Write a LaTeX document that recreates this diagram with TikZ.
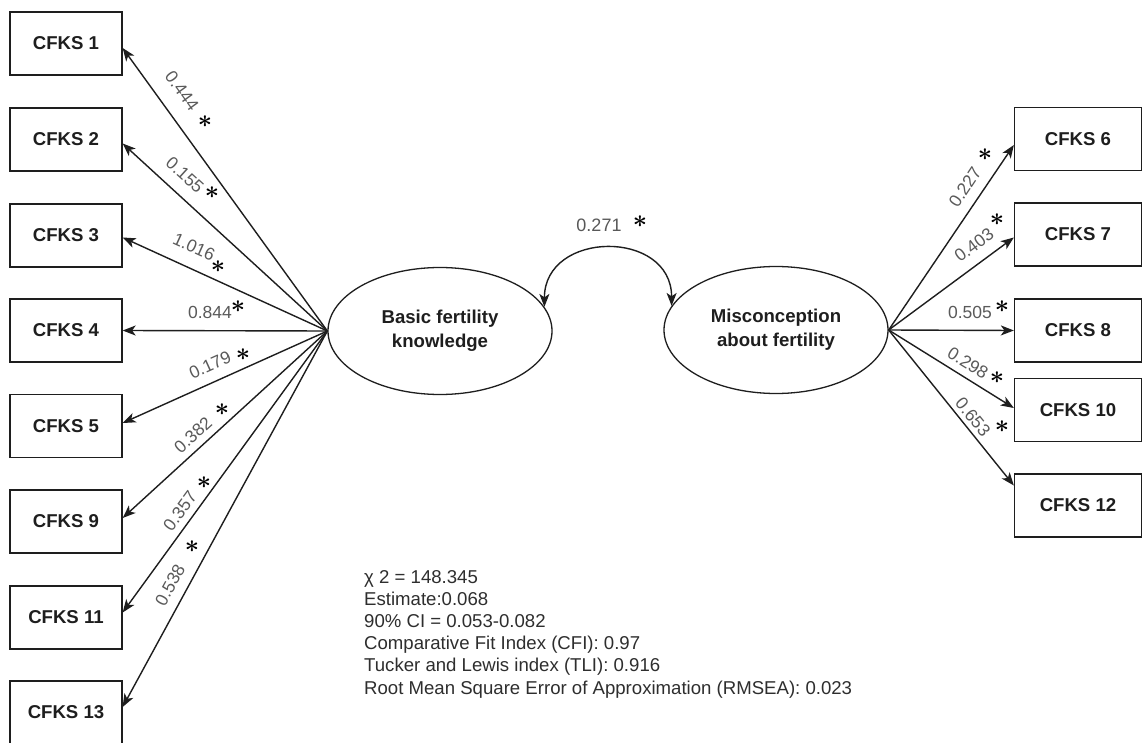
\documentclass[tikz,border=0pt]{standalone}
\usepackage{fontspec}
\setmainfont{Liberation Sans}
\usetikzlibrary{shapes.geometric,arrows.meta}
\definecolor{txt}{HTML}{1E1E1E}
\definecolor{coefgray}{HTML}{5A5A5A}
\definecolor{stattxt}{HTML}{2E2E2E}
\begin{document}
\begin{tikzpicture}[x=1pt,y=-1pt,
  obs/.style={draw=txt, line width=1.3pt, minimum width=112pt, minimum height=63pt, inner sep=0pt,
    font=\fontsize{18.6}{22}\selectfont\bfseries, text=txt},
  obsR/.style={obs, minimum width=127pt},
  lat/.style={ellipse, draw=txt, line width=1.3pt, minimum width=224pt, minimum height=127pt, inner sep=0pt,
    align=center, font=\fontsize{18.6}{24}\selectfont\bfseries, text=txt},
  loading/.style={draw=txt, line width=1.4pt, -{Stealth[length=13pt,width=10pt,inset=3.5pt]}},
  corr/.style={draw=txt, line width=1.4pt, {Stealth[length=13pt,width=10pt,inset=3.5pt]}-{Stealth[length=13pt,width=10pt,inset=3.5pt]}},
  coef/.style={text=coefgray, font=\fontsize{17.5}{20}\selectfont, inner sep=0pt},
  sig/.style={text=black, font=\fontsize{25}{25}\selectfont\boldmath, inner sep=0pt},
  stats/.style={text=stattxt, font=\fontsize{18.6}{22.2}\selectfont, align=left, inner sep=0pt, anchor=north west}
]
\useasboundingbox[fill=white] (0,0) rectangle (1143,743);

% latent variables
\node[lat] (L) at (440,331) {Basic fertility\\knowledge};
\node[lat] (R) at (776,330) {Misconception\\about fertility};

% left indicators
\node[obs] (b1)  at (66,43.5)  {CFKS 1};
\node[obs] (b2)  at (66,139.5) {CFKS 2};
\node[obs] (b3)  at (66,235.5) {CFKS 3};
\node[obs] (b4)  at (66,330.5) {CFKS 4};
\node[obs] (b5)  at (66,426)   {CFKS 5};
\node[obs] (b9)  at (66,521.5) {CFKS 9};
\node[obs] (b11) at (66,617.5) {CFKS 11};
\node[obs] (b13) at (66,712.5) {CFKS 13};

% right indicators
\node[obsR] (b6)  at (1078,139)   {CFKS 6};
\node[obsR] (b7)  at (1078,234.5) {CFKS 7};
\node[obsR] (b8)  at (1078,330.5) {CFKS 8};
\node[obsR] (b10) at (1078,410)   {CFKS 10};
\node[obsR] (b12) at (1078,505.5) {CFKS 12};

% loadings, left
\draw[loading] (L.west) -- ([yshift=-4.5pt]b1.east);
\draw[loading] (L.west) -- ([yshift=-4pt]b2.east);
\draw[loading] (L.west) -- ([yshift=-2pt]b3.east);
\draw[loading] (L.west) -- (b4.east);
\draw[loading] (L.west) -- ([yshift=3pt]b5.east);
\draw[loading] (L.west) -- ([yshift=3.5pt]b9.east);
\draw[loading] (L.west) -- ([yshift=5pt]b11.east);
\draw[loading] (L.west) -- ([yshift=5.5pt]b13.east);

% loadings, right
\draw[loading] (R.east) -- ([yshift=-6pt]b6.west);
\draw[loading] (R.east) -- ([yshift=-3pt]b7.west);
\draw[loading] (R.east) -- (b8.west);
\draw[loading] (R.east) -- ([yshift=2pt]b10.west);
\draw[loading] (R.east) -- ([yshift=20pt]b12.west);

% covariance
\draw[corr] (L.13) .. controls +(0,-77) and +(0,-77) .. (R.167);

% coefficient labels, left
\node[coef, rotate=-53.9] (c1)  at (182,91)  {0.444};
\node[sig] (s1)  at (205,122) {$\ast$};
\node[coef, rotate=-42.2] (c2)  at (185,175) {0.155};
\node[sig] (s2)  at (212,193) {$\ast$};
\node[coef, rotate=-24.3] (c3)  at (194,247) {1.016};
\node[sig] (s3)  at (218,267) {$\ast$};
\node[coef] (c4)  at (210,312) {0.844};
\node[sig] (s4)  at (238,307) {$\ast$};
\node[coef, rotate=24.3] (c5)  at (210,365) {0.179};
\node[sig] (s5)  at (243,355) {$\ast$};
\node[coef, rotate=42.4] (c9)  at (193,435) {0.382};
\node[sig] (s9)  at (222,410) {$\ast$};
\node[coef, rotate=53.9] (c11) at (180,511) {0.357};
\node[sig] (s11) at (204,483) {$\ast$};
\node[coef, rotate=61.3] (c13) at (170,585) {0.538};
\node[sig] (s13) at (192,547) {$\ast$};

% coefficient labels, right
\node[coef, rotate=56.4] (c6)  at (965,187) {0.227};
\node[sig] (s6)  at (985,155) {$\ast$};
\node[coef, rotate=36.8] (c7)  at (974,245) {0.403};
\node[sig] (s7)  at (997,220) {$\ast$};
\node[coef] (c8)  at (970,312) {0.505};
\node[sig] (s8)  at (1002,307) {$\ast$};
\node[coef, rotate=-31.6] (c10) at (968,363) {0.298};
\node[sig] (s10) at (997,378) {$\ast$};
\node[coef, rotate=-50.7] (c12) at (973,417) {0.653};
\node[sig] (s12) at (1002,427) {$\ast$};

% covariance label
\node[coef, text=stattxt!80!white, font=\fontsize{18}{20}\selectfont] (cr) at (599,225) {0.271};
\node[sig] (sr) at (640,222) {$\ast$};

% fit statistics
\node[stats] (fit) at (364,570) {χ 2 = 148.345\\
Estimate:0.068\\
90\% CI = 0.053-0.082\\
Comparative Fit Index (CFI): 0.97\\
Tucker and Lewis index (TLI): 0.916\\
Root Mean Square Error of Approximation (RMSEA): 0.023};
\end{tikzpicture}
\end{document}
